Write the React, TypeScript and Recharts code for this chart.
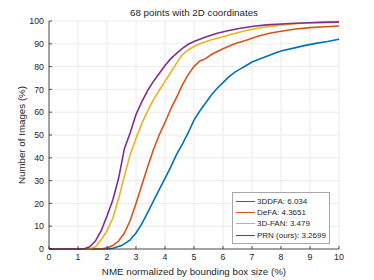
import { LineChart, Line, XAxis, YAxis, CartesianGrid, Legend, Label } from "recharts";

const FONT = '"Liberation Sans", Arial, Helvetica, sans-serif';
const TEXT = "#262626";

const xTicks = [0, 1, 2, 3, 4, 5, 6, 7, 8, 9, 10];
const yTicks = [0, 10, 20, 30, 40, 50, 60, 70, 80, 90, 100];

// 3DDFA
const nme3ddfa = [0, 2.0, 2.2, 2.5, 2.8, 3.0, 3.2, 3.4, 3.6, 3.8, 4.0, 4.2, 4.4, 4.6, 4.8, 5.0, 5.2, 5.4, 5.6, 5.8, 6.0, 6.2, 6.4, 6.6, 6.8, 7.0, 7.2, 7.4, 7.6, 7.8, 8.0, 8.4, 8.8, 9.2, 9.6, 10];
const pct3ddfa = [0, 0, 0.3, 1.5, 4, 7, 11, 16, 21, 26, 31, 36, 41.5, 46, 51, 56.5, 60.5, 64, 67.5, 70.5, 73, 75.5, 77.5, 79, 80.5, 82, 83, 84, 85, 86, 86.8, 88, 89.2, 90.2, 91, 92];

// DeFA
const nmeDefa = [0, 1.8, 2.0, 2.2, 2.4, 2.6, 2.8, 3.0, 3.2, 3.4, 3.6, 3.8, 4.0, 4.2, 4.4, 4.6, 4.8, 5.0, 5.2, 5.4, 5.6, 5.8, 6.0, 6.4, 6.8, 7.2, 7.6, 8.0, 8.5, 9.0, 9.5, 10];
const pctDefa = [0, 0, 0.5, 1.5, 3.5, 7, 12.5, 20, 28, 36, 43.5, 50, 55.5, 61.5, 66.5, 72, 76.5, 80, 82.5, 83.5, 85.3, 86.6, 87.8, 90, 91.6, 93.3, 94.6, 95.5, 96.5, 97.1, 97.5, 97.8];

// 3D-FAN
const nmeFan = [0, 1.4, 1.6, 1.8, 2.0, 2.2, 2.4, 2.6, 2.8, 3.0, 3.2, 3.4, 3.6, 3.8, 4.0, 4.2, 4.4, 4.6, 4.8, 5.0, 5.2, 5.6, 6.0, 6.4, 6.8, 7.2, 7.6, 8.0, 8.5, 9.0, 9.5, 10];
const pctFan = [0, 0, 1, 4, 8, 13.5, 22, 32, 41.5, 48.5, 55, 60.5, 65.5, 69.5, 73.5, 77.5, 81.5, 85.3, 87.3, 88.8, 90, 91.8, 93.1, 94.5, 95.8, 96.8, 97.6, 98.2, 98.8, 99.2, 99.5, 99.8];

// PRN (ours)
const nmePrn = [0, 1.2, 1.4, 1.6, 1.8, 2.0, 2.2, 2.4, 2.6, 2.8, 3.0, 3.2, 3.4, 3.6, 3.8, 4.0, 4.2, 4.4, 4.6, 4.8, 5.0, 5.4, 5.8, 6.2, 6.6, 7.0, 7.5, 8.0, 8.5, 9.0, 9.5, 10];
const pctPrn = [0, 0, 1, 3.5, 8, 14.5, 21.5, 31, 44, 51, 59, 64.5, 69.5, 73.5, 77, 80.5, 83.5, 85.8, 88, 89.8, 91, 93, 94.6, 95.8, 96.8, 97.6, 98.3, 98.7, 99, 99.2, 99.4, 99.5];

const toPoints = (xs: number[], ys: number[]) => xs.map((x, i) => ({ nme: x, pct: ys[i] }));

const series = [
  { name: "3DDFA: 6.034", color: "#0072BD", data: toPoints(nme3ddfa, pct3ddfa) },
  { name: "DeFA: 4.3651", color: "#D95319", data: toPoints(nmeDefa, pctDefa) },
  { name: "3D-FAN: 3.479", color: "#EDB120", data: toPoints(nmeFan, pctFan) },
  { name: "PRN (ours): 3.2699", color: "#7E2F8E", data: toPoints(nmePrn, pctPrn) },
];

const XTick = ({ x, y, payload }: any) => (
  <g>
    <line x1={x} x2={x} y1={y - 5} y2={y - 8} stroke={TEXT} strokeWidth={0.8} />
    <text x={x} y={y} dy="0.71em" textAnchor="middle" fill={TEXT} fontSize={8.8} fontFamily={FONT}>
      {payload.value}
    </text>
  </g>
);

const YTick = ({ x, y, payload }: any) => (
  <g>
    <line x1={x + 5} x2={x + 8} y1={y} y2={y} stroke={TEXT} strokeWidth={0.8} />
    <text x={x} y={y} dy="0.355em" textAnchor="end" fill={TEXT} fontSize={8.8} fontFamily={FONT}>
      {payload.value}
    </text>
  </g>
);

// keep the legend in series order (recharts sorts it by name otherwise)
const renderLegend = () => (
  <div
    style={{
      border: "1px solid #a6a6a6",
      background: "#fff",
      padding: "2.5px 3px",
      fontFamily: FONT,
      fontSize: 8,
      color: TEXT,
      boxSizing: "border-box",
    }}
  >
    {series.map((s) => (
      <div key={s.name} style={{ display: "flex", alignItems: "center", height: 11.3, whiteSpace: "nowrap" }}>
        <span style={{ width: 19, borderTop: `1.6px solid ${s.color}`, marginRight: 2 }} />
        {s.name}
      </div>
    ))}
  </div>
);

export default function App() {
  return (
    <div style={{ position: "absolute", left: 0, top: 0, width: 374, height: 280, background: "#fff" }}>
      <div
        style={{
          position: "absolute",
          left: 49,
          width: 290,
          top: 6,
          lineHeight: "13px",
          textAlign: "center",
          fontFamily: FONT,
          fontSize: 9.75,
          color: TEXT,
          zIndex: 1,
        }}
      >
        68 points with 2D coordinates
      </div>
      <LineChart width={374} height={280} margin={{ top: 21, right: 35, bottom: 0, left: 0 }}>
        <CartesianGrid stroke="#ebebeb" strokeWidth={1} />
        <XAxis
          dataKey="nme"
          type="number"
          domain={[0, 10]}
          ticks={xTicks}
          interval={0}
          height={31}
          tickSize={0}
          tickMargin={5}
          tick={<XTick />}
          axisLine={{ stroke: TEXT, strokeWidth: 0.8 }}
          tickLine={false}
        >
          <Label
            value="NME normalized by bounding box size (%)"
            position="center"
            dy={7.5}
            fill={TEXT}
            fontSize={9.75}
            fontFamily={FONT}
          />
        </XAxis>
        <XAxis
          xAxisId="top"
          orientation="top"
          type="number"
          domain={[0, 10]}
          height={0}
          tick={false}
          tickLine={false}
          axisLine={{ stroke: TEXT, strokeWidth: 0.8 }}
        />
        <YAxis
          type="number"
          domain={[0, 100]}
          ticks={yTicks}
          interval={0}
          width={49}
          tickSize={0}
          tickMargin={5}
          tick={<YTick />}
          axisLine={{ stroke: TEXT, strokeWidth: 0.8 }}
          tickLine={false}
        >
          <Label
            value="Number of Images (%)"
            position="center"
            angle={-90}
            dx={-2.5}
            fill={TEXT}
            fontSize={9.75}
            fontFamily={FONT}
          />
        </YAxis>
        <YAxis
          yAxisId="right"
          orientation="right"
          type="number"
          domain={[0, 100]}
          width={0}
          tick={false}
          tickLine={false}
          axisLine={{ stroke: TEXT, strokeWidth: 0.8 }}
        />
        {series.map((s) => (
          <Line
            key={s.name}
            data={s.data}
            dataKey="pct"
            name={s.name}
            type="linear"
            stroke={s.color}
            strokeWidth={1.6}
            dot={false}
            isAnimationActive={false}
          />
        ))}
        <Legend
          layout="vertical"
          align="center"
          verticalAlign="middle"
          content={renderLegend}
          wrapperStyle={{ left: 232, top: 192, width: 98 }}
        />
      </LineChart>
    </div>
  );
}
